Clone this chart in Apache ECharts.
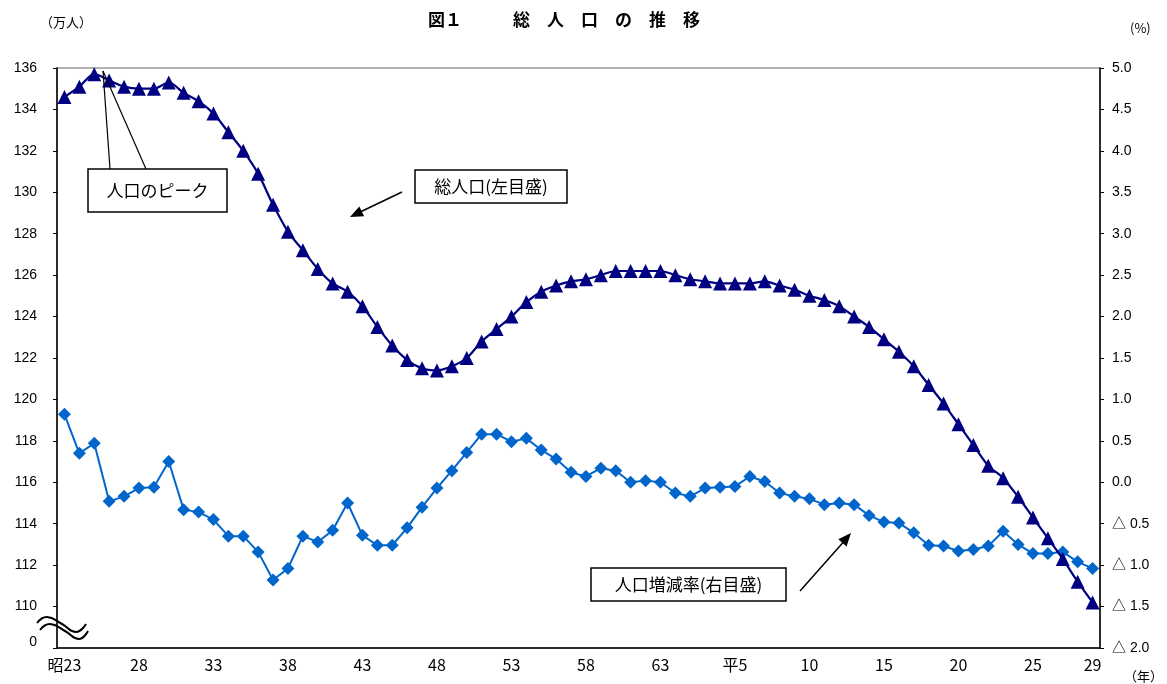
<!DOCTYPE html>
<html>
<head>
<meta charset="utf-8">
<script src="https://cdn.jsdelivr.net/npm/echarts@6/dist/echarts.min.js"></script>
<style>
html,body{margin:0;padding:0;background:#fff;}
#c{width:1167px;height:684px;}
</style>
</head>
<body>
<div id="c"></div>
<script>
// Categories: 昭和23年 (1948) … 平成29年 (2017)
const years = [
  '昭23','昭24','昭25','昭26','昭27','昭28','昭29','昭30','昭31','昭32',
  '昭33','昭34','昭35','昭36','昭37','昭38','昭39','昭40','昭41','昭42',
  '昭43','昭44','昭45','昭46','昭47','昭48','昭49','昭50','昭51','昭52',
  '昭53','昭54','昭55','昭56','昭57','昭58','昭59','昭60','昭61','昭62',
  '昭63','平元','平2','平3','平4','平5','平6','平7','平8','平9',
  '平10','平11','平12','平13','平14','平15','平16','平17','平18','平19',
  '平20','平21','平22','平23','平24','平25','平26','平27','平28','平29'
];
// Shown x tick labels
const xTickLabels = {
  '昭23':'昭23','昭28':'28','昭33':'33','昭38':'38','昭43':'43','昭48':'48',
  '昭53':'53','昭58':'58','昭63':'63','平5':'平5','平10':'10','平15':'15',
  '平20':'20','平25':'25','平29':'29'
};
// 総人口 (万人, left axis)
const totalPop = [
  134.6,135.1,135.7,135.4,135.1,135.0,135.0,135.3,134.8,134.4,
  133.8,132.9,132.0,130.9,129.4,128.1,127.2,126.3,125.6,125.2,
  124.5,123.5,122.6,121.9,121.5,121.4,121.6,122.0,122.8,123.4,
  124.0,124.7,125.2,125.5,125.7,125.8,126.0,126.2,126.2,126.2,
  126.2,126.0,125.8,125.7,125.6,125.6,125.6,125.7,125.5,125.3,
  125.0,124.8,124.5,124.0,123.5,122.9,122.3,121.6,120.7,119.8,
  118.8,117.8,116.8,116.2,115.3,114.3,113.3,112.3,111.2,110.2
];
// 人口増減率 (%, right axis)
const growthRate = [
  0.82,0.35,0.47,-0.23,-0.17,-0.07,-0.06,0.25,-0.33,-0.36,
  -0.45,-0.65,-0.65,-0.84,-1.18,-1.04,-0.65,-0.72,-0.58,-0.25,
  -0.64,-0.76,-0.76,-0.55,-0.30,-0.07,0.14,0.36,0.58,0.58,
  0.49,0.53,0.39,0.28,0.12,0.07,0.17,0.14,0.00,0.02,
  0.00,-0.13,-0.17,-0.07,-0.06,-0.05,0.07,0.01,-0.13,-0.17,
  -0.20,-0.27,-0.25,-0.27,-0.40,-0.48,-0.49,-0.61,-0.76,-0.77,
  -0.83,-0.81,-0.77,-0.59,-0.75,-0.86,-0.86,-0.84,-0.96,-1.04
];
// Axis tick settings
const leftMin = 108, leftMax = 136, leftStep = 2;
const rightMin = -2, rightMax = 5, rightStep = 0.5;

const FONT = '"Liberation Sans", "Noto Sans CJK JP", sans-serif';
const JFONT = '"Noto Sans CJK JP", sans-serif';

function arrowHead(x1, y1, x2, y2, len, half) {
  const dx = x2 - x1, dy = y2 - y1, L = Math.hypot(dx, dy);
  const ux = dx / L, uy = dy / L;
  const bx = x2 - ux * len, by = y2 - uy * len;
  const px = -uy, py = ux;
  return [[x2, y2], [bx + px * half, by + py * half], [bx - px * half, by - py * half]];
}

function calloutBox(x, y, w, h, text) {
  return [
    { type: 'rect', z: 100, shape: { x: x, y: y, width: w, height: h },
      style: { fill: '#fff', stroke: '#000', lineWidth: 1.5 } },
    { type: 'text', z: 101, x: x + w / 2, y: y + h / 2,
      style: { text: text, font: '17px ' + JFONT, fill: '#000', align: 'center', verticalAlign: 'middle' } }
  ];
}

const chart = echarts.init(document.getElementById('c'), null, { renderer: 'canvas' });

const graphics = [
  { type: 'text', x: 428, y: 20,
    style: { text: '図１　　　総　人　口　の　推　移', font: 'bold 17px ' + JFONT, fill: '#000', verticalAlign: 'middle' } },
  { type: 'text', x: 40, y: 22,
    style: { text: '（万人）', font: '13px ' + JFONT, fill: '#000', verticalAlign: 'middle' } },
  { type: 'text', x: 1130, y: 28,
    style: { text: '(%)', font: '13px ' + JFONT, fill: '#000', verticalAlign: 'middle' } },
  { type: 'text', x: 1124, y: 676,
    style: { text: '（年）', font: '13px ' + JFONT, fill: '#000', verticalAlign: 'middle' } },
  // axis break marks
  { type: 'polyline', z: 100, shape: { points: [[37,623],[47,617],[62,624],[76,632],[86,624]], smooth: 0.5 },
    style: { stroke: '#000', lineWidth: 2, fill: null } },
  { type: 'polyline', z: 100, shape: { points: [[40,630],[50,624],[65,631],[79,639],[88,631]], smooth: 0.5 },
    style: { stroke: '#000', lineWidth: 2, fill: null } },
  // peak callout lines
  { type: 'line', z: 99, shape: { x1: 110, y1: 169, x2: 103, y2: 71 }, style: { stroke: '#000', lineWidth: 1.2 } },
  { type: 'line', z: 99, shape: { x1: 146, y1: 169, x2: 103, y2: 71 }, style: { stroke: '#000', lineWidth: 1.2 } },
  // arrow for 総人口
  { type: 'line', z: 99, shape: { x1: 402, y1: 192, x2: 356, y2: 214 }, style: { stroke: '#000', lineWidth: 1.5 } },
  { type: 'polygon', z: 99, shape: { points: arrowHead(402, 192, 350, 217, 13, 5.5) }, style: { fill: '#000' } },
  // arrow for 人口増減率
  { type: 'line', z: 99, shape: { x1: 800, y1: 591, x2: 847, y2: 538 }, style: { stroke: '#000', lineWidth: 1.5 } },
  { type: 'polygon', z: 99, shape: { points: arrowHead(800, 591, 851, 533, 13, 5.5) }, style: { fill: '#000' } }
].concat(
  calloutBox(88, 169, 139, 43, '人口のピーク'),
  calloutBox(415, 170, 152, 33, '総人口(左目盛)'),
  calloutBox(591, 568, 195, 33, '人口増減率(右目盛)')
);

chart.setOption({
  animation: false,
  backgroundColor: '#fff',
  grid: { left: 57, top: 68, width: 1043, height: 580, show: true, borderColor: '#999', borderWidth: 1.5, containLabel: false },
  xAxis: {
    type: 'category',
    data: years,
    boundaryGap: true,
    axisLine: { onZero: false, lineStyle: { color: '#000', width: 1.5 } },
    axisTick: { inside: true, length: 5, interval: 0, lineStyle: { color: '#000' } },
    axisLabel: {
      interval: function (i, v) { return xTickLabels[v] !== undefined; },
      formatter: function (v) { return xTickLabels[v] || ''; },
      color: '#000', fontSize: 16, fontFamily: JFONT, margin: 9
    },
    splitLine: { show: false }
  },
  yAxis: [
    {
      type: 'value', min: leftMin, max: leftMax, interval: leftStep,
      axisLine: { show: true, lineStyle: { color: '#000', width: 1.5 } },
      axisTick: { show: true, length: 4, lineStyle: { color: '#000' } },
      splitLine: { show: false },
      axisLabel: {
        color: '#000', fontSize: 14, fontFamily: FONT, margin: 20,
        formatter: function (v) { return v === leftMin ? '{z|0}' : String(v); },
        rich: { z: { fontSize: 14, fontFamily: FONT, color: '#000', padding: [0, 0, 12, 0] } }
      }
    },
    {
      type: 'value', min: rightMin, max: rightMax, interval: rightStep, position: 'right',
      axisLine: { show: true, lineStyle: { color: '#000', width: 1.5 } },
      axisTick: { show: true, length: 4, lineStyle: { color: '#000' } },
      splitLine: { show: false },
      axisLabel: {
        color: '#000', fontSize: 14, fontFamily: FONT, margin: 12,
        formatter: function (v) {
          const r = Math.round(v * 10) / 10;
          return r < 0 ? '△ ' + (-r).toFixed(1) : r.toFixed(1);
        }
      }
    }
  ],
  series: [
    {
      name: '人口増減率', type: 'line', yAxisIndex: 1, data: growthRate,
      symbol: 'diamond', symbolSize: 13, z: 3, showSymbol: true, showAllSymbol: true,
      itemStyle: { color: '#0066CC' },
      lineStyle: { color: '#0066CC', width: 2 }
    },
    {
      name: '総人口', type: 'line', yAxisIndex: 0, data: totalPop,
      symbol: 'triangle', symbolSize: 14, z: 4, smooth: 0.3, showSymbol: true, showAllSymbol: true,
      itemStyle: { color: '#000080' },
      lineStyle: { color: '#000080', width: 2.2 }
    }
  ],
  graphic: graphics
});
</script>
</body>
</html>
